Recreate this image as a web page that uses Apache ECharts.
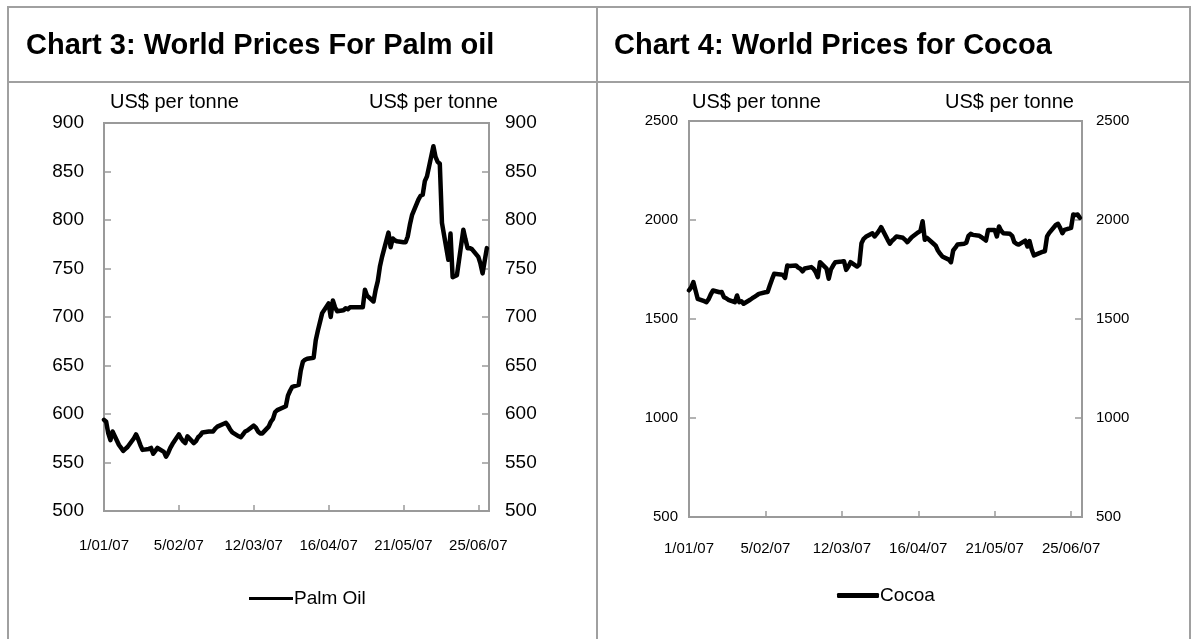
<!DOCTYPE html>
<html>
<head>
<meta charset="utf-8">
<title>World Prices</title>
<script src="https://cdn.jsdelivr.net/npm/echarts@6/dist/echarts.min.js"></script>
<style>
  html, body { margin: 0; padding: 0; background: #fff; }
  #main { width: 1196px; height: 639px; }
</style>
</head>
<body>
<div id="main"></div>
<script type="text/javascript">
// tick labels on the date axis, one every 35 days from 1/01/07
var dateTicks = ['1/01/07', '5/02/07', '12/03/07', '16/04/07', '21/05/07', '25/06/07'];

// palm oil, US$ per tonne, one value per business day (1 Jan - 29 Jun 2007)
var palmOil = [
  594, 592, 580, 573, 582,
  568, 565, 562, 564, 566,
  575, 579, 574, 568, 563,
  564, 565, 559, 562, 565,
  561, 556, 560, 565, 569,
  579, 575, 572, 570, 577,
  570, 572, 576, 578, 581,
  582, 582, 582, 585, 587,
  590, 591, 588, 584, 581,
  577, 576, 579, 582, 583,
  588, 586, 582, 580, 580,
  587, 592, 595, 602, 604,
  607, 608, 619, 624, 628,
  630, 645, 654, 656, 657,
  658, 676, 686, 695, 704,
  714, 700, 717, 710, 706,
  707, 709, 708, 710, 710,
  710, 710, 710, 728, 722,
  716, 728, 737, 752, 762,
  787, 772, 781, 779, 778,
  777, 777, 783, 795, 805,
  821, 825, 826, 840, 845,
  876, 865, 860, 858, 797,
  759, 786, 741, 742, 743,
  790, 780, 771, 771, 770,
  762, 755, 745, 758, 771
];

// cocoa, US$ per tonne, same business days
var cocoa = [
  1645, 1660, 1686, 1644, 1602,
  1590, 1585, 1600, 1625, 1644,
  1635, 1636, 1610, 1605, 1597,
  1585, 1619, 1585, 1590, 1577,
  1597, 1605, 1612, 1619, 1627,
  1635, 1636, 1669, 1700, 1728,
  1725, 1723, 1708, 1770, 1768,
  1770, 1760, 1754, 1741, 1755,
  1762, 1754, 1738, 1711, 1787,
  1754, 1703, 1750, 1770, 1787,
  1790, 1792, 1748, 1765, 1787,
  1765, 1775, 1883, 1905, 1915,
  1933, 1917, 1930, 1945, 1964,
  1900, 1880, 1895, 1905, 1917,
  1910, 1900, 1888, 1900, 1913,
  1938, 1945, 1994, 1900, 1910,
  1880, 1870, 1846, 1830, 1816,
  1800, 1787, 1846, 1860, 1876,
  1880, 1885, 1920, 1930, 1925,
  1920, 1913, 1905, 1896, 1950,
  1950, 1917, 1967, 1945, 1933,
  1930, 1920, 1888, 1880, 1876,
  1896, 1866, 1893, 1850, 1821,
  1835, 1840, 1842, 1917, 1935,
  1975, 1981, 1960, 1933, 1950,
  1960, 2028, 2025, 2028, 2011
];

// day offset from 1 Jan 2007 (a Monday) for the i-th business day
function bizDay(i) {
  return 7 * Math.floor(i / 5) + (i % 5);
}
function toPoints(arr) {
  return arr.map(function (v, i) { return [bizDay(i), v]; });
}

var AXIS = '#9a9a9a';
var FONT = '"Liberation Sans", Arial, sans-serif';

function dateLabel(v) {
  var k = v / 35;
  return (k === Math.floor(k) && k < dateTicks.length) ? dateTicks[k] : '';
}
function plain(v) { return String(v); }

function xAxisFor(g, size, margin) {
  return {
    type: 'value', gridIndex: g, min: 0, max: 180, interval: 35,
    axisLine: { show: true, lineStyle: { color: AXIS, width: 2 } },
    axisTick: { show: true, inside: true, length: 6, lineStyle: { color: AXIS, width: 1.5 } },
    splitLine: { show: false },
    axisLabel: { formatter: dateLabel, color: '#000', fontSize: size, fontFamily: FONT, margin: margin, showMaxLabel: false }
  };
}

function yAxisFor(g, pos, min, max, step, size, margin) {
  return {
    type: 'value', gridIndex: g, position: pos, min: min, max: max, interval: step,
    axisLine: { show: true, lineStyle: { color: AXIS, width: 2 } },
    axisTick: { show: true, inside: true, length: 7, lineStyle: { color: AXIS, width: 1.5 } },
    splitLine: { show: false },
    axisLabel: { formatter: plain, color: '#000', fontSize: size, fontFamily: FONT, margin: margin }
  };
}

function label(text, x, size) {
  return { text: text, left: x, top: 87,
    textStyle: { fontSize: size, fontWeight: 'normal', color: '#000', fontFamily: FONT } };
}

var myChart = echarts.init(document.getElementById('main'));

var option = {
  animation: false,
  backgroundColor: '#fff',
  title: [
    { text: 'Chart 3: World Prices For Palm oil', left: 21, top: 26,
      textStyle: { fontSize: 29, fontWeight: 'bold', color: '#000', fontFamily: FONT } },
    { text: 'Chart 4: World Prices for Cocoa', left: 609, top: 26,
      textStyle: { fontSize: 29, fontWeight: 'bold', color: '#000', fontFamily: FONT } },
    label('US$ per tonne', 105, 20),
    label('US$ per tonne', 364, 20),
    label('US$ per tonne', 687, 20),
    label('US$ per tonne', 940, 20)
  ],
  legend: [
    { data: ['Palm Oil'], left: 244, top: 584, itemWidth: 44, itemHeight: 3, icon: 'rect', itemGap: 2,
      textStyle: { fontSize: 19, color: '#000', fontFamily: FONT, padding: [0, 0, 0, -4] } },
    { data: ['Cocoa'], left: 832, top: 581, itemWidth: 42, itemHeight: 5, icon: 'roundRect',
      textStyle: { fontSize: 19, color: '#000', fontFamily: FONT, padding: [0, 0, 0, -4] } }
  ],
  grid: [
    { left: 104, top: 123, width: 385, height: 388, show: true, borderColor: AXIS, borderWidth: 2 },
    { left: 689, top: 121, width: 393, height: 396, show: true, borderColor: AXIS, borderWidth: 2 }
  ],
  xAxis: [xAxisFor(0, 15, 27), xAxisFor(1, 15, 24)],
  yAxis: [
    yAxisFor(0, 'left', 500, 900, 50, 19, 20),
    yAxisFor(0, 'right', 500, 900, 50, 19, 16),
    yAxisFor(1, 'left', 500, 2500, 500, 15, 11),
    yAxisFor(1, 'right', 500, 2500, 500, 15, 14)
  ],
  series: [
    { name: 'Palm Oil', type: 'line', xAxisIndex: 0, yAxisIndex: 0, data: toPoints(palmOil),
      showSymbol: false, symbol: 'none', color: '#000',
      lineStyle: { color: '#000', width: 4.5, join: 'round', cap: 'round' } },
    { name: 'Cocoa', type: 'line', xAxisIndex: 1, yAxisIndex: 2, data: toPoints(cocoa),
      showSymbol: false, symbol: 'none', color: '#000',
      lineStyle: { color: '#000', width: 4.5, join: 'round', cap: 'round' } }
  ],
  graphic: [
    { type: 'polyline', shape: { points: [[8, 639], [8, 7], [1190, 7], [1190, 639]] },
      style: { stroke: '#a0a0a0', lineWidth: 2, fill: null } },
    { type: 'line', shape: { x1: 8, y1: 82, x2: 1190, y2: 82 }, style: { stroke: '#a0a0a0', lineWidth: 2 } },
    { type: 'line', shape: { x1: 597, y1: 7, x2: 597, y2: 639 }, style: { stroke: '#a0a0a0', lineWidth: 2 } }
  ]
};

myChart.setOption(option);
</script>
</body>
</html>
